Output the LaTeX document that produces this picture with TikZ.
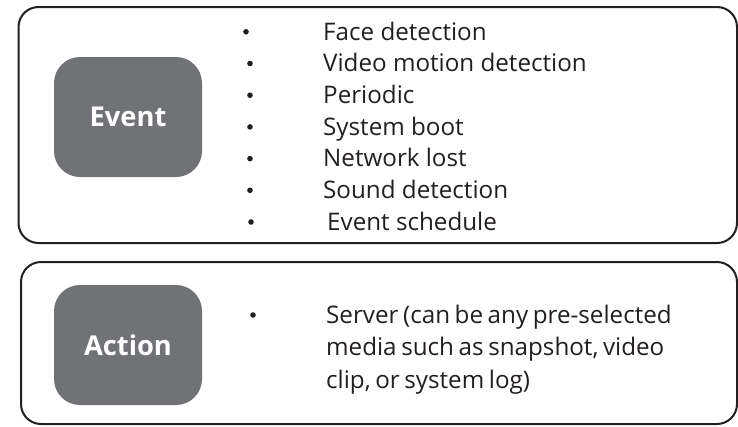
\documentclass[tikz,border=0pt]{standalone}
\usepackage{fontspec}
\setmainfont{Open Sans}
\usetikzlibrary{positioning}
\definecolor{tagGray}{HTML}{707276}
\definecolor{inkDark}{HTML}{231F20}
\newcommand{\snugspace}{\spaceskip=4.6pt\relax}

\begin{document}
\begin{tikzpicture}[x=1pt,y=-1pt,
  frame/.style={draw=inkDark,line width=2pt,rounded corners=20pt},
  tag/.style={fill=tagGray,rounded corners=26pt,minimum width=148pt,minimum height=120pt,
    text=white,font=\fontsize{27.3}{31}\selectfont\bfseries},
  item/.style={anchor=base west,text=inkDark,inner sep=0pt,font=\fontsize{24.2}{29}\selectfont},
  dot/.style={circle,fill=inkDark,inner sep=0pt,minimum size=5.6pt}]
  \useasboundingbox (0,0) rectangle (738,426);

  % outer frames
  \draw[frame] (18.5,7) rectangle (737,243);
  \draw[frame] (21,262) rectangle (737,424);

  % grey tags
  \node[tag] (event) at (128,117) {Event};
  \node[tag] (action) at (128,345) {Action};

  % event list
  \foreach \txt/\tx/\bx [count=\i] in {Face detection/323/246,
      Video motion detection/323/250, Periodic/323/250, System boot/323/250,
      Network lost/323/250, Sound detection/323/250, Event schedule/327/251}{
    \node[item] (ev\i) at (\tx,{40+(\i-1)*31.7}) {\txt};
    \node[dot] (evdot\i) at (\bx,{31.8+(\i-1)*31.7}) {};
  }

  % action list
  \node[dot] (actdot) at (253,315) {};
  \foreach \txt [count=\i] in {{Server (can be any pre-selected},
      {media such as snapshot, video}, {clip, or system log)}}{
    \node[item] (act\i) at (326,{323+(\i-1)*32.5}) {\snugspace\txt};
  }
\end{tikzpicture}
\end{document}
